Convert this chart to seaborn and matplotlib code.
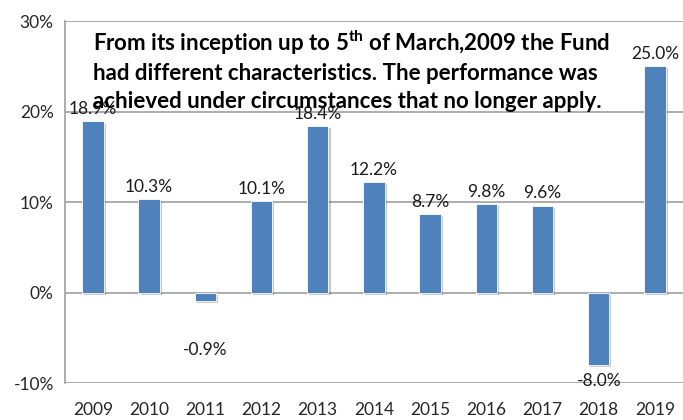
import numpy as np
import pandas as pd
import matplotlib
matplotlib.use("Agg")
import matplotlib.pyplot as plt
import matplotlib.patheffects as pe
import seaborn as sns

years = ["2009", "2010", "2011", "2012", "2013", "2014", "2015", "2016", "2017", "2018", "2019"]
returns = [18.9, 10.3, -0.9, 10.1, 18.4, 12.2, 8.7, 9.8, 9.6, -8.0, 25.0]
y_ticks = [-10, 0, 10, 20, 30]
note = ("From its inception up to 5$^{\\mathregular{th}}$ of March,2009 the Fund\n"
        "had different characteristics. The performance was\n"
        "achieved under circumstances that no longer apply.")

sns.set_style("white")
plt.rcParams['font.family'] = ['Lato', 'DejaVu Sans']

df = pd.DataFrame({'year': years, 'ret': returns})

fig = plt.figure(figsize=(6.83, 4.2), dpi=100)
ax = fig.add_axes([0.095, 0.088, 0.905, 0.862])

for t in y_ticks:
    ax.axhline(t, color='#a6a6a6', linewidth=1.3, zorder=0)

sns.barplot(data=df, x='year', y='ret', color='#4f81bd', saturation=1, width=0.38,
            ax=ax, zorder=3)
for bar in ax.patches:
    bar.set_path_effects([pe.SimplePatchShadow(offset=(1.5, -1.5), alpha=0.25), pe.Normal()])
    bar.set_edgecolor('white')
    bar.set_linewidth(0.6)

for i, v in enumerate(returns):
    if v >= 0:
        ax.annotate(f"{v:.1f}%", (i, v), xytext=(0, 3), textcoords='offset points',
                    ha='center', va='bottom', fontsize=12.5, color='#1a1a1a', zorder=5)
    else:
        ax.annotate(f"{v:.1f}%", (i, v), xytext=(0, -30 if v > -5 else -6),
                    textcoords='offset points',
                    ha='center', va='top', fontsize=12.5, color='#1a1a1a', zorder=5)

ax.set_ylim(-10, 30)
ax.set_xlim(-0.5, len(years) - 0.5)
ax.set_yticks(y_ticks)
ax.set_yticklabels([f"{t}%" for t in y_ticks], fontsize=12.5)
ax.tick_params(axis='x', labelsize=12.5, length=0, pad=14)
ax.tick_params(axis='y', length=0, pad=8)
ax.set_xlabel("")
ax.set_ylabel("")
for s in ['top', 'right', 'bottom']:
    ax.spines[s].set_visible(False)
ax.spines['left'].set_color('#a6a6a6')
ax.spines['left'].set_linewidth(1.3)

ax.text(0.046, 0.978, note, transform=ax.transAxes, ha='left', va='top',
        fontsize=16, fontweight='bold', linespacing=1.36, zorder=6, color='black')

fig.savefig("out.png", dpi=100)
